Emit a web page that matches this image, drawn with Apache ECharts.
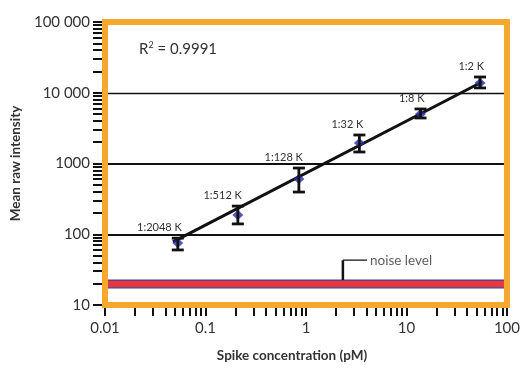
<!DOCTYPE html>
<html><head><meta charset="utf-8">
<script src="https://cdn.jsdelivr.net/npm/echarts@6/dist/echarts.min.js"></script>
<style>html,body{margin:0;padding:0;background:#fff}#c{width:523px;height:368px}</style>
</head><body><div id="c"></div>
<script>
// ---- data ----
const dilution = ['1:2048 K', '1:512 K', '1:128 K', '1:32 K', '1:8 K', '1:2 K'];
const conc = [0.053, 0.21, 0.85, 3.4, 13.8, 54];
const intensity = [75, 187, 604, 1950, 5000, 13700];
const errLow = [60, 140, 395, 1455, 4400, 11700];
const errHigh = [88, 250, 863, 2530, 5900, 16700];
const fitX = [0.0475, 56.4];
const fitY = [78, 14200];
const noiseLow = 17.5, noiseHigh = 22.5;
const noiseLeaderX = [2.33, 4.05];
const noiseLeaderY = [22.5, 43];
const yTickLabels = [10, 100, 1000, 10000, 100000];
const xTickLabels = [0.01, 0.1, 1, 10, 100];
const gridValues = [100, 1000, 10000];
const r2Text = '0.9991';

function minorSet(decades) {
  const out = [];
  decades.forEach((d, i) => {
    if (i === decades.length - 1) { out.push(d); return; }
    for (let k = 1; k <= 9; k++) out.push(+(d * k).toPrecision(6));
  });
  return out;
}
const yTicks = minorSet(yTickLabels);
const xTicks = minorSet(xTickLabels);

const FONT = 'Lato';
const TXT = '#333';
const chart = echarts.init(document.getElementById('c'), null, {renderer: 'canvas'});

const option = {
  animation: false,
  textStyle: {fontFamily: FONT},
  grid: {left: 105, right: 16, top: 22, bottom: 62, show: true, z: 10,
         borderColor: '#F5A82E', borderWidth: 6, backgroundColor: 'transparent'},
  xAxis: {
    type: 'log', logBase: 10, min: 0.01, max: 100,
    name: 'Spike concentration (pM)', nameLocation: 'middle', nameGap: 44,
    nameTextStyle: {fontFamily: FONT, fontSize: 13.5, fontWeight: 'bold', color: TXT, padding: [0, 28, 0, 0]},
    axisLine: {show: true, lineStyle: {color: '#111', width: 1}},
    axisTick: {show: true, length: 11, customValues: xTicks, lineStyle: {color: '#111', width: 2}},
    axisLabel: {customValues: xTickLabels, fontSize: 15, color: TXT, margin: 16,
      formatter: v => String(+v.toPrecision(6))},
    splitLine: {show: false}, minorTick: {show: false}
  },
  yAxis: {
    type: 'log', logBase: 10, min: 10, max: 100000,
    name: 'Mean raw intensity', nameLocation: 'middle', nameGap: 78,
    nameTextStyle: {fontFamily: FONT, fontSize: 13.5, fontWeight: 'bold', color: TXT},
    axisLine: {show: true, lineStyle: {color: '#111', width: 1}},
    axisTick: {show: true, length: 12, customValues: yTicks, lineStyle: {color: '#111', width: 2}},
    axisLabel: {customValues: yTickLabels, fontSize: 15, color: TXT, margin: 15,
      formatter: v => { const s = String(Math.round(v)); return s.length > 4 ? s.replace(/\B(?=(\d{3})+(?!\d))/g, ' ') : s; }},
    splitLine: {show: false}, minorTick: {show: false}
  },
  graphic: [{
    type: 'text', left: 139, top: 41, z: 20,
    style: {text: '{r|R}{s|2}{r| = ' + r2Text + '}', fill: TXT,
      rich: {r: {fontFamily: FONT, fontSize: 15, fill: TXT}, s: {fontFamily: FONT, fontSize: 9, fill: TXT, verticalAlign: 'top', padding: [0, 0, 8, 0]}}}
  }],
  series: [
    {
      type: 'line', data: [], silent: true,
      markArea: {silent: true, data: [[{yAxis: noiseLow}, {yAxis: noiseHigh}]],
        itemStyle: {color: '#E8383C', borderColor: '#3C3CA8', borderWidth: 1.2}},
      markLine: {silent: true, symbol: 'none', label: {show: false},
        data: gridValues.map((v, i) => ({yAxis: v, lineStyle: {color: '#111', type: 'solid', width: i === 2 ? 1.4 : 2.2}}))}
    },
    {
      type: 'line', silent: true, showSymbol: false,
      data: [[noiseLeaderX[0], noiseLeaderY[0]], [noiseLeaderX[0], noiseLeaderY[1]]],
      lineStyle: {color: '#111', width: 2.5}
    },
    {
      type: 'line', silent: true, showSymbol: false,
      data: [[noiseLeaderX[0], noiseLeaderY[1]], [noiseLeaderX[1], noiseLeaderY[1]]],
      lineStyle: {color: '#111', width: 1.2}
    },
    {
      type: 'scatter', silent: true, symbolSize: 0,
      data: [[noiseLeaderX[1], noiseLeaderY[1]]],
      label: {show: true, position: 'right', distance: 3, formatter: 'noise level', fontFamily: FONT, fontSize: 13.5, color: TXT}
    },
    {
      type: 'line', silent: true, showSymbol: false, z: 3,
      data: fitX.map((x, i) => [x, fitY[i]]),
      lineStyle: {color: '#111', width: 3}
    },
    {
      type: 'scatter', z: 4, symbol: 'diamond', symbolSize: [11, 10],
      itemStyle: {color: '#2B2BB0'},
      data: conc.map((x, i) => [x, intensity[i]])
    },
    {
      type: 'custom', z: 5,
      data: conc.map((x, i) => [x, errLow[i], errHigh[i], i]),
      renderItem: function (params, api) {
        const x = api.value(0);
        const lo = api.coord([x, api.value(1)]);
        const hi = api.coord([x, api.value(2)]);
        const i = api.value(3);
        const w = 6;
        const st = {stroke: '#111', lineWidth: 2.8};
        return {type: 'group', children: [
          {type: 'line', shape: {x1: lo[0], y1: lo[1], x2: hi[0], y2: hi[1]}, style: st},
          {type: 'line', shape: {x1: lo[0] - w, y1: lo[1], x2: lo[0] + w, y2: lo[1]}, style: st},
          {type: 'line', shape: {x1: hi[0] - w, y1: hi[1], x2: hi[0] + w, y2: hi[1]}, style: st},
          {type: 'text', x: hi[0] + 4, y: hi[1] - 5,
           style: {text: dilution[i], fontFamily: FONT, fontSize: 11, fill: TXT, align: 'right', verticalAlign: 'bottom'}}
        ]};
      }
    }
  ]
};
chart.setOption(option);
</script></body></html>
